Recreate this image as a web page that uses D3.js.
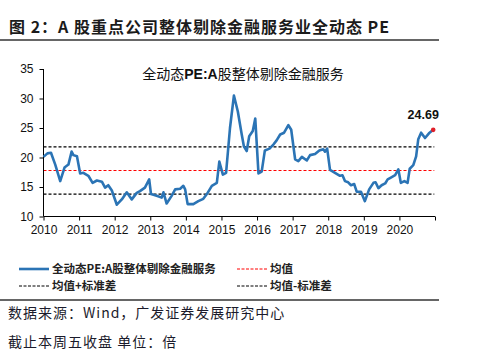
<!DOCTYPE html>
<html><head><meta charset="utf-8">
<script src="https://cdn.jsdelivr.net/npm/d3@7/dist/d3.min.js"></script>
<style>
html,body{margin:0;padding:0;background:#fff;}
svg{display:block;}
</style></head>
<body>
<script>
// ---- data ----
const years = [2010.00,2010.11,2010.21,2010.33,2010.47,2010.59,2010.70,2010.79,2010.84,2010.94,
2011.03,2011.12,2011.26,2011.38,2011.50,2011.64,2011.73,2011.82,2011.92,
2012.06,2012.20,2012.34,2012.48,2012.62,2012.71,2012.85,2012.97,
2013.02,2013.18,2013.32,2013.37,2013.46,2013.60,2013.70,2013.84,2013.93,2013.98,
2014.05,2014.21,2014.35,2014.49,2014.59,2014.73,2014.87,2014.94,
2015.04,2015.13,2015.24,2015.35,2015.46,2015.57,2015.63,2015.71,2015.78,2015.88,2015.95,
2016.04,2016.13,2016.22,2016.35,2016.46,2016.55,2016.65,2016.76,2016.88,2016.96,
2017.07,2017.16,2017.26,2017.40,2017.49,2017.63,2017.75,2017.86,2017.91,2017.97,
2018.05,2018.19,2018.33,2018.40,2018.47,2018.56,2018.64,2018.73,2018.80,2018.92,
2019.03,2019.15,2019.27,2019.33,2019.41,2019.50,2019.60,2019.67,2019.76,2019.88,2019.97,
2020.04,2020.14,2020.23,2020.29,2020.39,2020.47,2020.53,2020.61,2020.72,2020.83,2020.95];
const peValues = [20.1,20.7,20.8,18.8,16.0,18.3,18.8,21.0,20.4,20.2,
17.3,17.4,16.9,15.7,16.1,15.9,14.9,15.3,14.4,
12.0,12.9,14.1,12.9,14.0,14.3,14.9,16.3,
13.8,13.5,13.2,14.1,12.2,13.5,14.6,14.7,15.2,14.6,
12.1,12.1,12.6,13.0,13.8,15.2,15.7,19.3,
17.1,17.4,25.0,30.5,27.8,23.9,21.9,21.1,23.6,24.5,26.6,
17.3,17.6,21.2,21.5,22.2,22.9,23.9,24.2,25.5,24.7,
19.7,19.4,20.1,19.5,20.4,20.6,21.2,21.4,21.0,21.5,
17.9,17.4,16.9,17.0,16.0,15.8,15.3,15.5,14.2,14.2,
12.6,14.6,15.7,15.8,14.8,15.3,15.6,16.3,16.6,17.0,18.0,
15.7,16.0,15.7,18.1,18.7,20.2,23.1,24.2,23.3,24.1,24.69];
const meanValue = 17.8;
const stdValue = 4.0;
const yTicks = [10,15,20,25,30,35];
const xTicks = [2010,2011,2012,2013,2014,2015,2016,2017,2018,2019,2020,2021];
const xTickLabels = ["2010","2011","2012","2013","2014","2015","2016","2017","2018","2019","2020",""];
const headerText = "图 2：A 股重点公司整体剔除金融服务业全动态 PE";
const chartTitleParts = [["全动态", false], ["PE:A", true], ["股整体剔除金融服务", false]];
const seriesName = "全动态PE:A股整体剔除金融服务";
const legendNames = ["均值","均值+标准差","均值-标准差"];
const sourceLine1 = "数据来源：Wind，广发证券发展研究中心";
const sourceLine2 = "截止本周五收盘 单位：倍";
const lastLabel = "24.69";

const W = 482, H = 357;
const FONT = '"Liberation Sans", Arial, "Noto Sans CJK SC", sans-serif';
const CJK = '"Noto Sans CJK SC", "Liberation Sans", sans-serif';
const BLUE = "#2b74b5";

const svg = d3.select("body").append("svg").attr("width", W).attr("height", H);

// header
svg.append("text").attr("x", 9).attr("y", 33)
  .attr("font-family", CJK).attr("font-weight", "bold").attr("font-size", 16)
  .attr("letter-spacing", 1).attr("fill", "#1b1b1b").text(headerText);
svg.append("line").attr("x1", 0).attr("x2", 439).attr("y1", 40).attr("y2", 40)
  .attr("stroke", "#333").attr("stroke-width", 1.5);

const x = d3.scaleLinear().domain([2010, 2021]).range([43.5, 435]);
const y = d3.scaleLinear().domain([10, 35]).range([216.5, 69]);

// chart title
const ct = svg.append("text").attr("x", 243).attr("y", 79).attr("text-anchor", "middle")
  .attr("font-family", CJK).attr("font-size", 14).attr("fill", "#111");
chartTitleParts.forEach(p => {
  ct.append("tspan").attr("font-weight", p[1] ? "bold" : "normal")
    .attr("font-family", p[1] ? FONT : CJK).text(p[0]);
});

// reference lines
const refs = [
  {v: meanValue + stdValue, c: "#000"},
  {v: meanValue, c: "#ff0000"},
  {v: meanValue - stdValue, c: "#000"}
];
svg.selectAll("line.ref").data(refs).enter().append("line").attr("class", "ref")
  .attr("x1", x(2010)).attr("x2", x(2020.98))
  .attr("y1", d => y(d.v)).attr("y2", d => y(d.v))
  .attr("stroke", d => d.c).attr("stroke-width", 1.2).attr("stroke-dasharray", "3,2");

// axes
const yAxis = d3.axisLeft(y).tickValues(yTicks).tickSize(4).tickPadding(6).tickFormat(d3.format("d"));
const gy = svg.append("g").attr("transform", `translate(${x(2010)},0)`).call(yAxis);
const xAxis = d3.axisBottom(x).tickValues(xTicks).tickSize(4).tickPadding(5)
  .tickFormat((d, i) => xTickLabels[i]);
const gx = svg.append("g").attr("transform", `translate(0,${y(10)})`).call(xAxis);
[gx, gy].forEach(g => {
  g.select(".domain").attr("stroke", "#000").attr("stroke-width", 1);
  g.selectAll(".tick line").attr("stroke", "#000");
  g.selectAll(".tick text").attr("font-family", FONT).attr("font-size", 12).attr("fill", "#111");
});
gy.select(".domain").attr("d", `M0,${y(35)}V${y(10)}`);
gx.select(".domain").attr("d", `M${x(2010)},0H${x(2021)}`);

// series line
const line = d3.line().x((d, i) => x(years[i])).y(d => y(d)).curve(d3.curveLinear);
svg.append("path").datum(peValues).attr("d", line)
  .attr("fill", "none").attr("stroke", BLUE).attr("stroke-width", 2.6)
  .attr("stroke-linejoin", "round");

// last point marker and label
const lastI = peValues.length - 1;
svg.append("circle").attr("cx", x(years[lastI])).attr("cy", y(peValues[lastI])).attr("r", 2.3)
  .attr("fill", "#e0202a");
svg.append("text").attr("x", x(years[lastI]) - 10).attr("y", y(peValues[lastI]) - 11)
  .attr("text-anchor", "middle").attr("font-family", FONT).attr("font-weight", "bold")
  .attr("font-size", 12.5).attr("fill", "#111").text(lastLabel);

// legend
const lg = svg.append("g").attr("font-family", CJK).attr("font-size", 11.5).attr("font-weight", "bold").attr("fill", "#222");
const legendItems = [
  {name: seriesName, x: 19, y: 269, c: BLUE, dash: null, w: 2.6},
  {name: legendNames[0], x: 237, y: 269, c: "#ff0000", dash: "3,1.5", w: 1},
  {name: legendNames[1], x: 19, y: 286, c: "#000", dash: "3,1.5", w: 1},
  {name: legendNames[2], x: 237, y: 286, c: "#000", dash: "3,1.5", w: 1}
];
legendItems.forEach(it => {
  lg.append("line").attr("x1", it.x).attr("x2", it.x + 30).attr("y1", it.y).attr("y2", it.y)
    .attr("stroke", it.c).attr("stroke-width", it.w).attr("stroke-dasharray", it.dash);
  lg.append("text").attr("x", it.x + 33).attr("y", it.y + 4).text(it.name);
});

svg.append("line").attr("x1", 0).attr("x2", 439).attr("y1", 300).attr("y2", 300)
  .attr("stroke", "#333").attr("stroke-width", 1.5);

svg.append("text").attr("x", 8).attr("y", 318).attr("font-family", CJK).attr("font-size", 14)
  .attr("letter-spacing", 1).attr("fill", "#1b1b2b").text(sourceLine1);
svg.append("text").attr("x", 8).attr("y", 347).attr("font-family", CJK).attr("font-size", 14)
  .attr("letter-spacing", 1).attr("fill", "#1b1b2b").text(sourceLine2);
</script>
</body></html>
